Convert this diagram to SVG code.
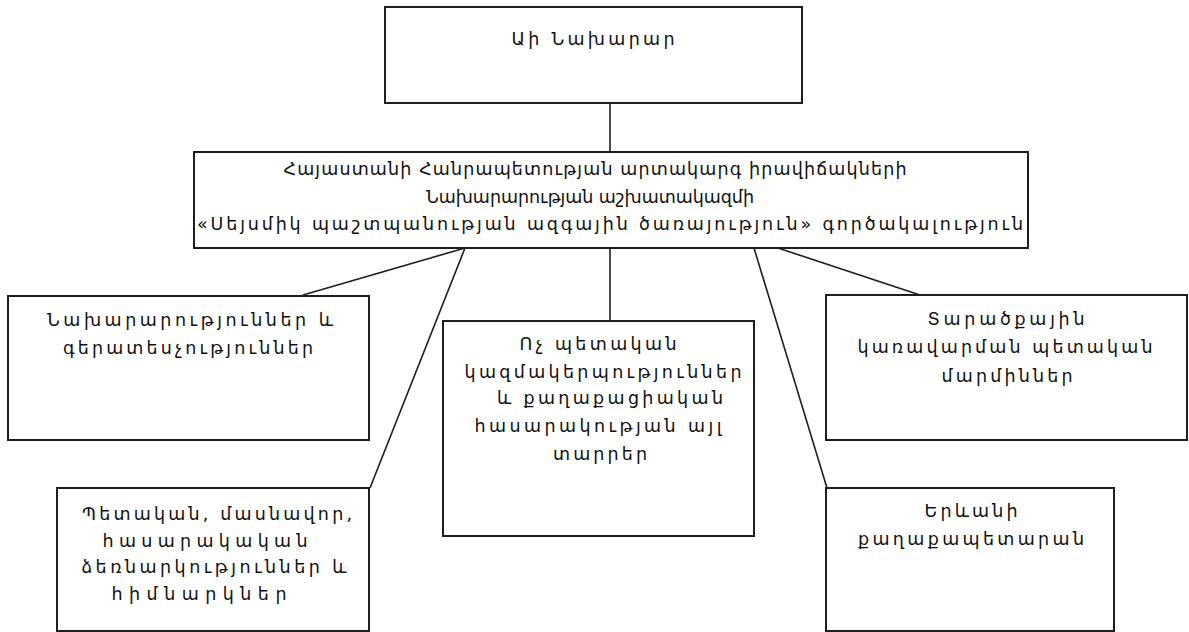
<svg xmlns="http://www.w3.org/2000/svg" width="1189" height="632" viewBox="0 0 1189 632">
<style>
.box{fill:#fff;stroke:#1e1e1e;stroke-width:2}
.ln{stroke:#1e1e1e;stroke-width:1.6;fill:none}
text{font-family:"DejaVu Sans","Noto Sans",sans-serif;font-size:17.5px;fill:#111;text-anchor:middle}
</style>
<rect width="1189" height="632" fill="#fff"/>
<g id="connectors">
<line class="ln" x1="610" y1="103" x2="610" y2="152"/>
<line class="ln" x1="465" y1="248" x2="303" y2="295"/>
<line class="ln" x1="465" y1="248" x2="370" y2="488"/>
<line class="ln" x1="610" y1="248" x2="610" y2="321"/>
<line class="ln" x1="754" y1="248" x2="827" y2="488"/>
<line class="ln" x1="778" y1="248" x2="920" y2="295"/>
</g>
<g id="minister">
<rect class="box" x="385" y="7" width="417" height="96"/>
<text x="593" y="45" textLength="163" lengthAdjust="spacing">Աի Նախարար</text>
</g>
<g id="agency">
<rect class="box" x="194" y="152" width="834" height="96"/>
<text x="595" y="175" textLength="623" lengthAdjust="spacing">Հայաստանի Հանրապետության արտակարգ իրավիճակների</text>
<text x="590" y="203" textLength="328" lengthAdjust="spacing">Նախարարության աշխատակազմի</text>
<text x="610" y="230" textLength="826" lengthAdjust="spacing">«Սեյսմիկ պաշտպանության ազգային ծառայություն» գործակալություն</text>
</g>
<g id="ministries">
<rect class="box" x="8" y="296" width="361" height="144"/>
<text x="190" y="326" textLength="286" lengthAdjust="spacing">Նախարարություններ և</text>
<text x="188" y="354" textLength="250" lengthAdjust="spacing">գերատեսչություններ</text>
</g>
<g id="ngo">
<rect class="box" x="443" y="321" width="311" height="215"/>
<text x="598" y="350" textLength="157" lengthAdjust="spacing">Ոչ պետական</text>
<text x="603" y="378" textLength="277" lengthAdjust="spacing">կազմակերպություններ</text>
<text x="610" y="404" textLength="226" lengthAdjust="spacing">և քաղաքացիական</text>
<text x="598" y="432" textLength="247" lengthAdjust="spacing">հասարակության այլ</text>
<text x="600" y="460" textLength="94" lengthAdjust="spacing">տարրեր</text>
</g>
<g id="territorial">
<rect class="box" x="826" y="295" width="361" height="145"/>
<text x="1006" y="325" textLength="157" lengthAdjust="spacing">Տարածքային</text>
<text x="1005" y="353" textLength="295" lengthAdjust="spacing">կառավարման պետական</text>
<text x="1007" y="382" textLength="131" lengthAdjust="spacing">մարմիններ</text>
</g>
<g id="enterprises">
<rect class="box" x="57" y="488" width="312" height="143"/>
<text x="217" y="520" textLength="270" lengthAdjust="spacing">Պետական, մասնավոր,</text>
<text x="205" y="547" textLength="205" lengthAdjust="spacing">հասարակական</text>
<text x="214" y="573" textLength="265" lengthAdjust="spacing">ձեռնարկություններ և</text>
<text x="199" y="600" textLength="175" lengthAdjust="spacing">հիմնարկներ</text>
</g>
<g id="yerevan">
<rect class="box" x="826" y="488" width="288" height="143"/>
<text x="971" y="517" textLength="93" lengthAdjust="spacing">Երևանի</text>
<text x="971" y="545" textLength="226" lengthAdjust="spacing">քաղաքապետարան</text>
</g>
</svg>
